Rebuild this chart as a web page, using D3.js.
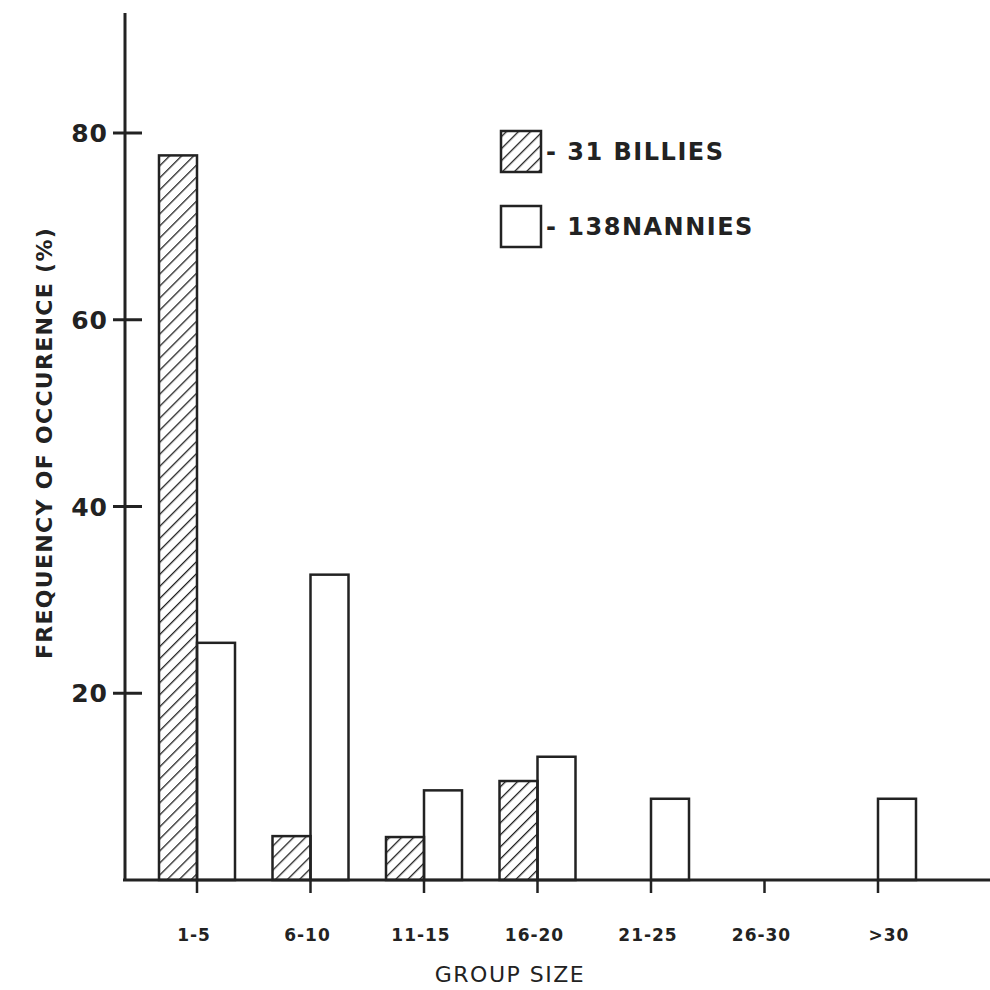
<!DOCTYPE html>
<html>
<head>
<meta charset="utf-8">
<script src="https://cdn.jsdelivr.net/npm/d3@7"></script>
<style>
  body { margin: 0; background: #fff; }
  text { font-family: "DejaVu Sans", sans-serif; fill: #222; }
</style>
</head>
<body>
<svg id="chart" width="990" height="990"></svg>
<script>
// group size classes
const categories = ["1-5", "6-10", "11-15", "16-20", "21-25", "26-30", ">30"];
// frequency of occurence (%)
const billies = [77.6, 4.7, 4.6, 10.6, 0, 0, 0];
const nannies = [25.4, 32.7, 9.6, 13.2, 8.7, 0, 8.7];
const yTicks = [20, 40, 60, 80];

const svg = d3.select("#chart");
const x0 = 125, yBase = 880;

const x = d3.scalePoint()
    .domain(categories)
    .range([197, 878]);

const y = d3.scaleLinear()
    .domain([0, 80])
    .range([yBase, 133]);

const barW = 38;

// hatch pattern for billies
const defs = svg.append("defs");
const pat = defs.append("pattern")
    .attr("id", "hatch")
    .attr("patternUnits", "userSpaceOnUse")
    .attr("width", 8.5)
    .attr("height", 8.5)
    .attr("patternTransform", "rotate(45)");
pat.append("line")
    .attr("x1", 0).attr("y1", 0)
    .attr("x2", 0).attr("y2", 8.5)
    .attr("stroke", "#222")
    .attr("stroke-width", 2.6);

// bars - billies (hatched) left of tick, nannies (open) right of tick
svg.selectAll(".bar-b")
    .data(categories.map((c, i) => ({c: c, v: billies[i]})).filter(d => d.v > 0))
    .enter().append("rect")
    .attr("class", "bar-b")
    .attr("x", d => x(d.c) - barW)
    .attr("y", d => y(d.v))
    .attr("width", barW)
    .attr("height", d => yBase - y(d.v))
    .attr("fill", "url(#hatch)")
    .attr("stroke", "#222")
    .attr("stroke-width", 2.5);

svg.selectAll(".bar-n")
    .data(categories.map((c, i) => ({c: c, v: nannies[i]})).filter(d => d.v > 0))
    .enter().append("rect")
    .attr("class", "bar-n")
    .attr("x", d => x(d.c))
    .attr("y", d => y(d.v))
    .attr("width", barW)
    .attr("height", d => yBase - y(d.v))
    .attr("fill", "none")
    .attr("stroke", "#222")
    .attr("stroke-width", 2.5);

// y axis
svg.append("line")
    .attr("x1", x0).attr("y1", 13)
    .attr("x2", x0).attr("y2", yBase)
    .attr("stroke", "#222").attr("stroke-width", 3);

svg.selectAll(".ytick")
    .data(yTicks)
    .enter().append("line")
    .attr("x1", x0 - 12).attr("x2", x0 + 17)
    .attr("y1", d => y(d)).attr("y2", d => y(d))
    .attr("stroke", "#222").attr("stroke-width", 3);

svg.selectAll(".ylab")
    .data(yTicks)
    .enter().append("text")
    .attr("x", 108)
    .attr("y", d => y(d))
    .attr("dy", "0.36em")
    .attr("text-anchor", "end")
    .attr("font-size", 25)
    .attr("font-weight", "bold")
    .attr("letter-spacing", 1)
    .text(d => d);

// x axis
svg.append("line")
    .attr("x1", x0 - 2).attr("y1", yBase)
    .attr("x2", 990).attr("y2", yBase)
    .attr("stroke", "#222").attr("stroke-width", 3);

svg.selectAll(".xtick")
    .data(categories)
    .enter().append("line")
    .attr("x1", d => x(d)).attr("x2", d => x(d))
    .attr("y1", yBase).attr("y2", yBase + 13)
    .attr("stroke", "#222").attr("stroke-width", 2.5);

svg.selectAll(".xlab")
    .data(categories)
    .enter().append("text")
    .attr("x", (d, i) => x(d) - 3 + (i === 6 ? 14 : 0))
    .attr("y", 941)
    .attr("text-anchor", "middle")
    .attr("font-size", 17)
    .attr("font-weight", "bold")
    .attr("letter-spacing", 1)
    .text(d => d);

// axis titles
svg.append("text")
    .attr("x", 510)
    .attr("y", 982)
    .attr("text-anchor", "middle")
    .attr("font-size", 22)
    .attr("letter-spacing", 1.5)
    .text("GROUP SIZE");

svg.append("text")
    .attr("transform", "translate(52,443) rotate(-90)")
    .attr("text-anchor", "middle")
    .attr("font-size", 22)
    .attr("font-weight", "bold")
    .attr("letter-spacing", 1.3)
    .text("FREQUENCY OF OCCURENCE (%)");

// legend
const legend = [
    {label: "- 31 BILLIES", fill: "url(#hatch)", y: 131},
    {label: "- 138NANNIES", fill: "none", y: 206}
];
legend.forEach(l => {
    svg.append("rect")
        .attr("x", 501).attr("y", l.y)
        .attr("width", 40).attr("height", 41)
        .attr("fill", l.fill)
        .attr("stroke", "#222").attr("stroke-width", 2.5);
    svg.append("text")
        .attr("x", 546).attr("y", l.y + 21)
        .attr("dy", "0.35em")
        .attr("font-size", 24)
        .attr("font-weight", "bold")
        .attr("letter-spacing", 1.5)
        .text(l.label);
});
</script>
</body>
</html>
